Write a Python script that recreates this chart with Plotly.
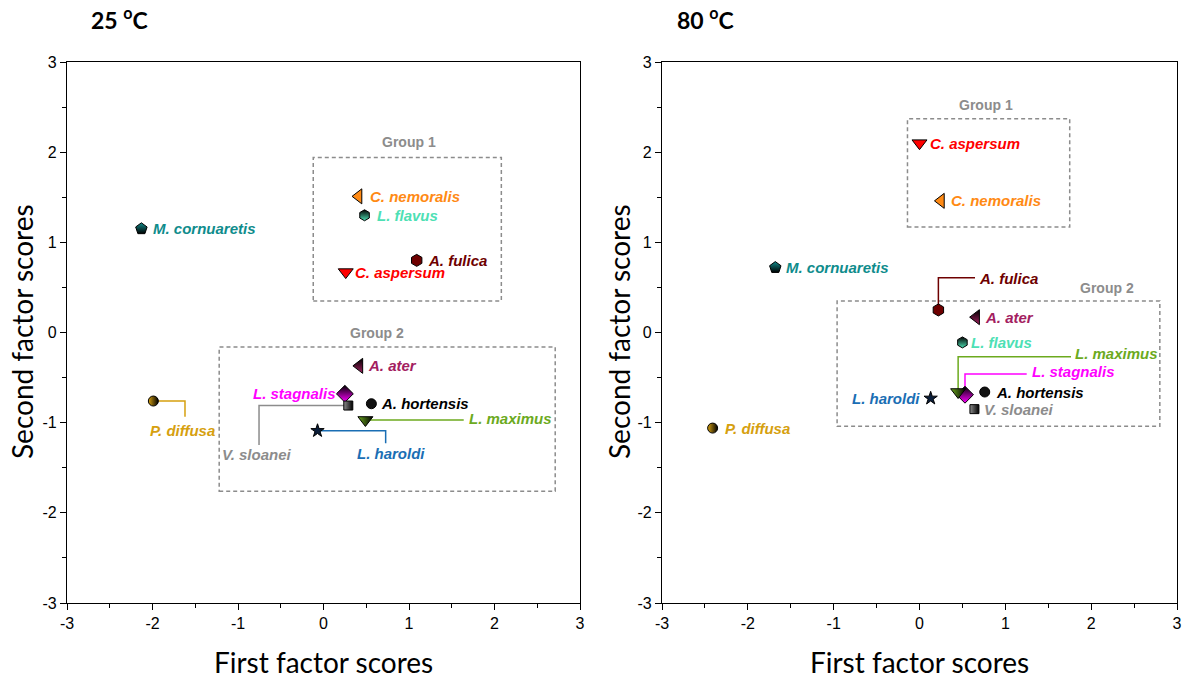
import plotly.graph_objects as go

# ---------------- data ----------------
species = ["M. cornuaretis", "C. nemoralis", "L. flavus", "A. fulica", "C. aspersum", "A. ater",
           "L. stagnalis", "V. sloanei", "A. hortensis", "L. maximus", "L. haroldi", "P. diffusa"]
x25 = [-2.13, 0.41, 0.48, 1.09, 0.26, 0.42, 0.25, 0.29, 0.56, 0.49, -0.07, -1.99]
y25 = [1.15, 1.51, 1.30, 0.80, 0.67, -0.37, -0.68, -0.81, -0.79, -0.97, -1.09, -0.76]
x80 = [-1.68, 0.25, 0.50, 0.22, 0.00, 0.66, 0.53, 0.64, 0.76, 0.45, 0.13, -2.41]
y80 = [0.72, 1.46, -0.11, 0.25, 2.10, 0.17, -0.69, -0.85, -0.66, -0.66, -0.73, -1.06]
tick_vals = [-3, -2, -1, 0, 1, 2, 3]
tick_text = ["-3", "-2", "-1", "0", "1", "2", "3"]

# ---------------- styles ----------------
colors = {
    "M. cornuaretis": "#0F8C8C", "C. nemoralis": "#FF8A14", "L. flavus": "#4DE0B4",
    "A. fulica": "#6E0000", "C. aspersum": "#FF0000", "A. ater": "#A3205F",
    "L. stagnalis": "#FF00FF", "V. sloanei": "#8C8C8C", "A. hortensis": "#000000",
    "L. maximus": "#6CAA1E", "L. haroldi": "#1A6EB4", "P. diffusa": "#D6A00F",
}
# symbol, marker fill colour, gradient type, gradient colour, size
markers = {
    "M. cornuaretis": ("pentagon", "#0F8C8C", "vertical", "#000000", 12),
    "C. nemoralis": ("triangle-left", "#FF8A14", "none", "#000000", 13),
    "L. flavus": ("hexagon", "#000000", "vertical", "#4DE0B4", 11),
    "A. fulica": ("hexagon", "#6E0000", "none", "#000000", 12),
    "C. aspersum": ("triangle-down", "#FF0000", "none", "#000000", 13),
    "A. ater": ("triangle-left", "#000000", "vertical", "#A3205F", 13),
    "L. stagnalis": ("diamond", "#000000", "vertical", "#FF00FF", 13),
    "V. sloanei": ("square", "#8C8C8C", "horizontal", "#000000", 9),
    "A. hortensis": ("circle", "#111111", "none", "#000000", 10),
    "L. maximus": ("triangle-down", "#6CAA1E", "horizontal", "#000000", 13),
    "L. haroldi": ("star", "#0B1E3A", "none", "#000000", 10),
    "P. diffusa": ("circle", "#D6A00F", "horizontal", "#000000", 10),
}

LABEL_FONT = "Liberation Sans, Arial, sans-serif"
TITLE_FONT = "Lato, Open Sans, sans-serif"
LABEL_SIZE = 15

# label placement: ('r', shift) text right of marker; ('l', shift) text left of marker;
# leaders: ('h', xe, tx, ty) / ('hv', xe, ye, tx, ty) / ('vh', ye, xe, tx, ty)
labels25 = {
    "M. cornuaretis": ("r", 10), "C. nemoralis": ("r", 9), "L. flavus": ("r", 10),
    "A. fulica": ("r", 9), "C. aspersum": ("r", 7), "A. ater": ("r", 7),
    "L. stagnalis": ("l", -7), "A. hortensis": ("r", 8),
    "L. maximus": ("h", 1.64, 1.675, -0.955),
    "L. haroldi": ("hv", 0.727, -1.229, 0.79, -1.34),
    "V. sloanei": ("hv", -0.754, -1.248, -0.778, -1.351),
    "P. diffusa": ("hv", -1.62, -0.934, -1.655, -1.083),
}
labels80 = {
    "M. cornuaretis": ("r", 9), "C. nemoralis": ("r", 8), "L. flavus": ("r", 7),
    "C. aspersum": ("r", 8), "A. ater": ("r", 7), "A. hortensis": ("r", 9),
    "L. haroldi": ("l", -9), "V. sloanei": ("r", 8), "P. diffusa": ("r", 10),
    "A. fulica": ("vh", 0.608, 0.647, 0.665, 0.603),
    "L. maximus": ("vh", -0.268, 1.765, 1.783, -0.228),
    "L. stagnalis": ("vh", -0.46, 1.249, 1.285, -0.437),
}
groups25 = [("Group 1", -0.12, 2.08, 0.35, 1.94, 1.0, 2.11),
            ("Group 2", -1.22, 2.71, -1.76, -0.16, 0.63, 0.0)]
groups80 = [("Group 1", -0.14, 1.75, 1.17, 2.37, 0.77, 2.52),
            ("Group 2", -0.96, 2.80, -1.04, 0.35, 2.19, 0.49)]

fig = go.Figure()
annotations = []
shapes = []


def panel(xs, ys, labels, groups, xa, ya):
    xref, yref = xa, ya
    # group boxes
    for name, x0, x1, y0, y1, lx, ly in groups:
        shapes.append(dict(type="rect", xref=xref, yref=yref, x0=x0, x1=x1, y0=y0, y1=y1,
                           line=dict(color="#8C8C8C", width=1.5, dash="4px,3px"), layer="below"))
        annotations.append(dict(x=lx, y=ly, xref=xref, yref=yref, text="<b>%s</b>" % name,
                                showarrow=False, xanchor="center", yanchor="middle",
                                font=dict(family=LABEL_FONT, size=14, color="#8C8C8C")))
    # leader lines + labels
    for i, sp in enumerate(species):
        xm, ym = xs[i], ys[i]
        c = colors[sp]
        spec = labels[sp]
        txt = "<b><i>%s</i></b>" % sp
        f = dict(family=LABEL_FONT, size=LABEL_SIZE, color=c)
        kind = spec[0]
        if kind == "r":
            annotations.append(dict(x=xm, y=ym, xref=xref, yref=yref, text=txt, showarrow=False,
                                    xanchor="left", yanchor="middle", xshift=spec[1], font=f))
        elif kind == "l":
            annotations.append(dict(x=xm, y=ym, xref=xref, yref=yref, text=txt, showarrow=False,
                                    xanchor="right", yanchor="middle", xshift=spec[1], font=f))
        else:
            if kind == "h":
                px, py = [xm, spec[1]], [ym, ym]
                tx, ty, anc = spec[2], spec[3], "left"
            elif kind == "hv":
                px, py = [xm, spec[1], spec[1]], [ym, ym, spec[2]]
                tx, ty, anc = spec[3], spec[4], "center"
            else:  # vh
                px, py = [xm, xm, spec[2]], [ym, spec[1], spec[1]]
                tx, ty, anc = spec[3], spec[4], "left"
            fig.add_trace(go.Scatter(x=px, y=py, mode="lines", xaxis=xa, yaxis=ya,
                                     line=dict(color=c, width=1.5), hoverinfo="skip",
                                     showlegend=False))
            annotations.append(dict(x=tx, y=ty, xref=xref, yref=yref, text=txt, showarrow=False,
                                    xanchor=anc, yanchor="middle", font=f))
    # markers
    for i, sp in enumerate(species):
        sym, fill, gtype, gcol, size = markers[sp]
        fig.add_trace(go.Scatter(
            x=[xs[i]], y=[ys[i]], mode="markers", xaxis=xa, yaxis=ya, name=sp, showlegend=False,
            marker=dict(symbol=sym, size=size, color=fill,
                        gradient=dict(type=gtype, color=gcol),
                        line=dict(color="#000000", width=1))))


panel(x25, y25, labels25, groups25, "x", "y")
panel(x80, y80, labels80, groups80, "x2", "y2")

axis_common = dict(range=[-3, 3], tickvals=tick_vals, ticktext=tick_text, ticks="outside",
                   ticklen=6, tickwidth=1.3, tickcolor="#000000", automargin=False,
                   minor=dict(dtick=0.5, ticks="outside", ticklen=3.5, tickwidth=1.3, tickcolor="#000000"),
                   showline=True, mirror=True, linecolor="#000000", linewidth=1.3,
                   showgrid=False, zeroline=False,
                   tickfont=dict(family=LABEL_FONT, size=16, color="#000000"))

W, H = 1184, 679
fig.update_layout(
    width=W, height=H, margin=dict(l=0, r=0, t=0, b=0, pad=0), autosize=False,
    paper_bgcolor="white", plot_bgcolor="white",
    xaxis=dict(domain=[67 / W, 580 / W], anchor="y", **axis_common),
    yaxis=dict(domain=[76 / H, 617 / H], anchor="x", **axis_common),
    xaxis2=dict(domain=[662 / W, 1177 / W], anchor="y2", **axis_common),
    yaxis2=dict(domain=[76 / H, 617 / H], anchor="x2", **axis_common),
)

title_font = dict(family=TITLE_FONT, size=28, color="#000000")
for cx, ytx in [(323.5, 22), (920, 619)]:
    annotations.append(dict(x=cx / W, y=(H - 662) / H, xref="paper", yref="paper",
                            xanchor="center", yanchor="middle",
                            text="First factor scores", showarrow=False, font=title_font))
    annotations.append(dict(x=ytx / W, y=(H - 332) / H, xref="paper", yref="paper",
                            xanchor="center", yanchor="middle",
                            text="Second factor scores", showarrow=False, textangle=-90,
                            font=title_font))
for cx, t in [(119, "25"), (705, "80")]:
    annotations.append(dict(x=cx / W, y=(H - 18) / H, xref="paper", yref="paper",
                            xanchor="center", yanchor="middle",
                            text="<b>%s <sup>o</sup>C</b>" % t, showarrow=False,
                            font=dict(family=TITLE_FONT, size=23, color="#000000")))

fig.update_layout(annotations=annotations, shapes=shapes)
fig.write_html("out.html", config={"responsive": False, "displayModeBar": False},
               post_script="document.body.style.margin='0px';document.body.style.overflow='hidden';")
